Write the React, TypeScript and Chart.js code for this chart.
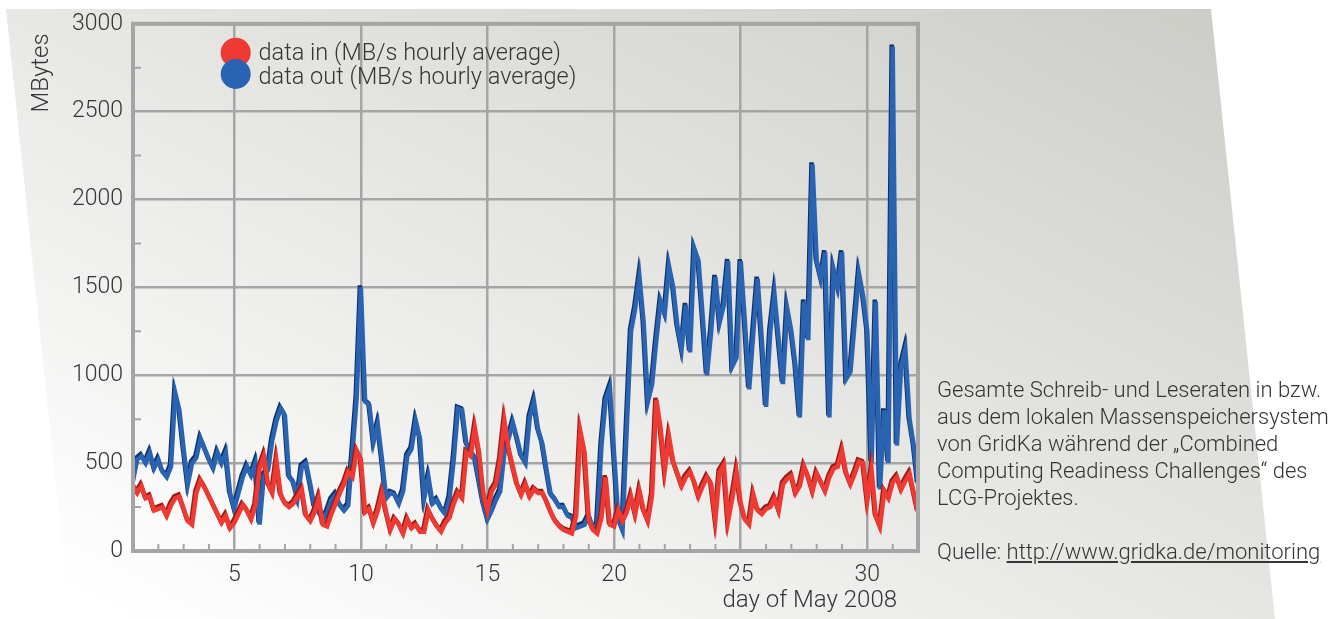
import React, { useEffect, useRef } from "react";
import { Chart, registerables } from "chart.js";

Chart.register(...registerables);

// ---------- data ----------
const firstDay = 1;
const hoursPerSample = 4;

const dataInValues = [
  370, 330, 370, 300, 310, 230, 240, 250, 200, 260,
  300, 310, 240, 170, 150, 330, 400, 360, 310, 260,
  210, 160, 200, 130, 160, 210, 260, 230, 180, 260,
  470, 540, 380, 330, 510, 320, 270, 250, 270, 310,
  350, 200, 170, 220, 300, 150, 140, 210, 270, 330,
  380, 450, 420, 570, 520,
  220, 240, 160, 230, 330,
  220, 120, 180, 150, 100, 180, 130, 150, 110, 110,
  230, 180, 140, 110, 160, 190, 270, 330, 300, 560,
  540, 700, 560, 330, 230, 340, 380, 520, 740, 580,
  480, 380, 320, 380, 310, 350, 330, 330, 280, 220,
  170, 140, 120, 110, 100, 200, 680, 560, 180, 120,
  100, 190, 420, 150, 140,
  230, 170, 220, 310, 210, 340, 230, 170, 320, 860,
  700, 460, 650, 510, 440, 370, 420, 450, 390, 310,
  370, 420, 380, 180, 450, 490, 170, 300, 450,
  270, 180, 150, 320, 230, 210, 240, 250, 300, 230,
  380, 410, 430, 330, 370, 480, 420, 340, 440, 390,
  340, 420, 470, 480, 570, 440, 380, 440, 510, 500,
  290, 460, 200, 140, 340, 300, 390, 420, 350, 400,
  440, 330, 220,
];

const dataOutValues = [
  400, 520, 540, 500, 560, 470, 520, 450, 420, 480,
  900, 800, 580, 380, 500, 530, 640, 580, 520, 470,
  560, 500, 560, 330, 240, 330, 420, 480, 430, 500,
  150, 430, 460, 630, 740, 810, 770, 420, 390, 300,
  480, 500, 380, 250, 220, 180, 220, 290, 320, 260,
  230, 260, 560, 870, 1500,
  850, 830, 620, 720, 520,
  300, 330, 320, 270, 340, 540, 580, 740, 640, 300,
  420, 270, 290, 240, 210, 300, 520, 810, 800, 610,
  560, 530, 400, 270, 180, 230, 290, 340, 560, 640,
  730, 640, 540, 500, 760, 850, 690, 610, 460, 320,
  290, 250, 250, 200, 190, 130, 140, 150, 200, 130,
  150, 600, 860, 930, 550,
  180, 120, 700, 1250, 1380, 1560, 1300, 850, 950, 1200,
  1420, 1350, 1620, 1500, 1280, 1150, 1400, 1130, 1720, 1650,
  1330, 1000, 1250, 1560, 1300, 1400, 1650, 1050, 1100,
  1650, 1300, 920, 1250, 1550, 1200, 820, 1250, 1460, 1200,
  950, 1380, 1250, 1050, 760, 1420, 1200, 2200, 1650, 1550,
  1700, 760, 1600, 1500, 1700, 980, 1020, 1300, 1580, 1450,
  1250, 500, 1420, 350, 800, 500, 2870, 600, 1050, 1150,
  750, 600, 380,
];

const xTickDays = [5, 10, 15, 20, 25, 30];
const yTickValues = [0, 500, 1000, 1500, 2000, 2500, 3000];
const seriesNames = ["data in (MB/s hourly average)", "data out (MB/s hourly average)"];
const xAxisTitle = "day of May 2008";
const yAxisTitle = "MBytes";
const captionLines = [
  "Gesamte Schreib- und Leseraten in bzw.",
  "aus dem lokalen Massenspeichersystem",
  "von GridKa während der „Combined",
  "Computing Readiness Challenges“ des",
  "LCG-Projektes.",
];
const sourceLabel = "Quelle: ";
const sourceUrl = "http://www.gridka.de/monitoring";

// ---------- styles ----------
const FONT = "Roboto, 'Liberation Sans', Arial, sans-serif";
const TEXT = "#353535";
const GRID = "#a5a5a5";
const RED = "#ee3a32";
const RED_DARK = "#961c15";
const BLUE = "#2a63b2";
const BLUE_DARK = "#0c3169";

function toPoints(values: number[]) {
  return values.map((y, i) => ({ x: firstDay + (i * hoursPerSample) / 24, y }));
}

const backgroundPlugin = {
  id: "bgShape",
  beforeDraw(chart: any) {
    const ctx = chart.ctx;
    ctx.save();
    const g = ctx.createLinearGradient(1211, 9, 732, 934);
    g.addColorStop(0, "#cdcdc8");
    g.addColorStop(1, "#ffffff");
    ctx.beginPath();
    ctx.moveTo(6, 9);
    ctx.lineTo(1211, 9);
    ctx.lineTo(1275, 619);
    ctx.lineTo(70, 619);
    ctx.closePath();
    ctx.fillStyle = g;
    ctx.fill();
    ctx.restore();
  },
};

const ribbonPlugin = {
  id: "ribbon",
  beforeDatasetDraw(chart: any, args: any) {
    const ds = chart.data.datasets[args.index];
    const ctx = chart.ctx;
    ctx.save();
    ctx.shadowColor = ds.edgeColor;
    ctx.shadowOffsetX = -1;
    ctx.shadowOffsetY = -2;
    ctx.shadowBlur = 0;
  },
  afterDatasetDraw(chart: any) {
    chart.ctx.restore();
  },
};

const framePlugin = {
  id: "frame",
  afterDatasetsDraw(chart: any) {
    const ctx = chart.ctx;
    const { left, right, top, bottom } = chart.chartArea;
    const xs = chart.scales.x;
    const ys = chart.scales.y;
    ctx.save();
    ctx.strokeStyle = GRID;
    ctx.lineWidth = 2;
    ctx.beginPath();
    for (let d = Math.ceil(xs.min) + 1; d < xs.max; d++) {
      if (d % 5 === 0) continue;
      const px = xs.getPixelForValue(d);
      ctx.moveTo(px, bottom);
      ctx.lineTo(px, bottom - 7);
    }
    for (let v = 250; v < ys.max; v += 500) {
      const py = ys.getPixelForValue(v);
      ctx.moveTo(left, py);
      ctx.lineTo(left + 8, py);
    }
    ctx.stroke();
    ctx.lineWidth = 4;
    ctx.strokeRect(left, top, right - left, bottom - top);
    ctx.restore();
  },
  afterDraw(chart: any) {
    const ctx = chart.ctx;
    ctx.save();
    // legend
    const ds = chart.data.datasets;
    const circleY = [52.7, 74];
    const textY = [59.5, 83.5];
    ctx.font = `300 23.5px ${FONT}`;
    ctx.textAlign = "left";
    ctx.textBaseline = "alphabetic";
    ds.forEach((d: any, i: number) => {
      ctx.beginPath();
      ctx.arc(235.7, circleY[i], 15, 0, Math.PI * 2);
      ctx.fillStyle = d.borderColor;
      ctx.fill();
    });
    ds.forEach((d: any, i: number) => {
      ctx.fillStyle = TEXT;
      ctx.fillText(d.label, 258.5, textY[i]);
    });
    // axis titles
    ctx.font = `300 24px ${FONT}`;
    ctx.fillStyle = TEXT;
    ctx.textAlign = "right";
    ctx.fillText(xAxisTitle, 897, 607);
    ctx.translate(42, 73);
    ctx.rotate(-Math.PI / 2);
    ctx.textAlign = "center";
    ctx.textBaseline = "middle";
    ctx.fillText(yAxisTitle, 0, 0);
    ctx.restore();
  },
};

export default function App() {
  const canvasRef = useRef<HTMLCanvasElement | null>(null);

  useEffect(() => {
    const canvas = canvasRef.current;
    if (!canvas) return;
    const chart = new Chart(canvas, {
      type: "line",
      data: {
        datasets: [
          {
            label: seriesNames[0],
            data: toPoints(dataInValues),
            borderColor: RED,
            edgeColor: RED_DARK,
            borderWidth: 4.5,
            pointRadius: 0,
            tension: 0,
            fill: false,
          } as any,
          {
            label: seriesNames[1],
            data: toPoints(dataOutValues),
            borderColor: BLUE,
            edgeColor: BLUE_DARK,
            borderWidth: 4.5,
            pointRadius: 0,
            tension: 0,
            fill: false,
          } as any,
        ],
      },
      options: {
        animation: false,
        responsive: false,
        maintainAspectRatio: false,
        devicePixelRatio: 1,
        layout: { padding: { top: 23, right: 426, bottom: 0, left: 0 } },
        plugins: { legend: { display: false }, tooltip: { enabled: false } },
        scales: {
          x: {
            type: "linear",
            min: 1,
            max: 32,
            afterBuildTicks: (scale: any) => {
              scale.ticks = xTickDays.map((v) => ({ value: v }));
            },
            afterFit: (scale: any) => {
              scale.height = 68;
            },
            ticks: {
              autoSkip: false,
              maxRotation: 0,
              padding: 10,
              color: TEXT,
              font: { family: FONT, size: 23, weight: "300" as any },
              callback: (v: any) => String(v),
            },
            grid: { color: GRID, lineWidth: 2.5, drawTicks: false },
            border: { display: false },
          },
          y: {
            min: 0,
            max: 3000,
            afterBuildTicks: (scale: any) => {
              scale.ticks = yTickValues.map((v) => ({ value: v }));
            },
            afterFit: (scale: any) => {
              scale.width = 133;
            },
            ticks: {
              padding: 10,
              color: TEXT,
              font: { family: FONT, size: 23, weight: "300" as any },
              callback: (v: any) => String(v),
            },
            grid: { color: GRID, lineWidth: 2.5, drawTicks: false },
            border: { display: false },
          },
        },
      } as any,
      plugins: [backgroundPlugin, ribbonPlugin, framePlugin],
    });
    return () => chart.destroy();
  }, []);

  return (
    <div
      style={{
        position: "absolute",
        left: 0,
        top: 0,
        width: 1344,
        height: 619,
        background: "#ffffff",
        overflow: "hidden",
      }}
    >
      <canvas ref={canvasRef} width={1344} height={619} style={{ display: "block" }} />
      <div
        style={{
          position: "absolute",
          left: 937,
          top: 376,
          fontFamily: FONT,
          fontWeight: 300,
          fontSize: 22,
          lineHeight: "27px",
          color: TEXT,
          whiteSpace: "nowrap",
        }}
      >
        {captionLines.map((line, i) => (
          <div key={i}>{line}</div>
        ))}
        <div style={{ height: 27 }} />
        <div>
          {sourceLabel}
          <span style={{ textDecoration: "underline" }}>{sourceUrl}</span>
        </div>
      </div>
    </div>
  );
}
